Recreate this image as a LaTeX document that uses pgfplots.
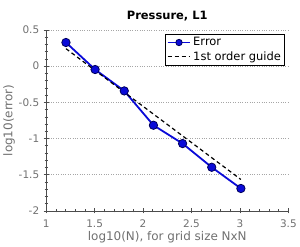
\documentclass[border={0pt 0pt 0pt 8bp}]{standalone}
\usepackage{fontspec}
\setmainfont{DejaVu Sans}
\usepackage{pgfplots}
\pgfplotsset{compat=1.18}
\definecolor{lblgray}{HTML}{707070}
\definecolor{errblue}{HTML}{0A0AD8}
\definecolor{markblue}{HTML}{00005A}
\pgfplotsset{
  markleg/.style={legend image code/.code={\draw[mark repeat=2,mark phase=2,##1, mark size=3.2pt]
    plot coordinates {(0cm,0cm) (0.4cm,0cm) (0.8cm,0cm)};}},
  lineleg/.style={legend image code/.code={\draw[##1] (0cm,0cm) -- (0.8cm,0cm);}},
}
\begin{document}
\begin{tikzpicture}
\begin{axis}[
  scale only axis,
  width=242bp, height=181bp,
  xmin=1, xmax=3.5, ymin=-2, ymax=0.5,
  axis lines*=left,
  axis line style={black!70, line width=0.6pt},
  xtick={1,1.5,...,3.5}, ytick={-2,-1.5,...,0.5},
  minor x tick num=4, minor y tick num=4,
  tick align=center,
  major tick length=5bp, minor tick length=3bp,
  tick style={black!70, line width=0.5pt},
  ymajorgrids,
  major grid style={dotted, black!35, line width=0.6pt},
  /pgf/number format/assume math mode=true,
  ticklabel style={font=\fontsize{10.5}{12}\selectfont, text=lblgray},
  x tick label style={yshift=-3bp},
  y tick label style={xshift=-1bp},
  title={\textbf{Pressure, L1}},
  title style={font=\fontsize{11.5}{13}\selectfont, yshift=-1bp},
  xlabel={log10(N), for grid size NxN},
  ylabel={log10(error)},
  label style={font=\fontsize{12}{14}\selectfont, text=lblgray},
  xlabel style={yshift=3bp},
  ylabel style={yshift=-3bp},
  legend style={at={(0.985,0.978)}, anchor=north east, draw=black, line width=0.6pt,
    font=\fontsize{11.5}{13}\selectfont, inner sep=1.5pt, row sep=0pt,
    cells={anchor=west}},
  legend cell align=left,
]
\addplot[errblue, line width=1.8pt, mark=*, mark size=4.2pt,
  mark options={fill=errblue, draw=markblue, line width=0.8pt}, markleg]
  coordinates {
  (1.204,0.325) (1.505,-0.048) (1.806,-0.343) (2.107,-0.817)
  (2.408,-1.070) (2.709,-1.397) (3.010,-1.690)
  };
\addlegendentry{Error}
\addplot[black, line width=1.2pt, dash pattern=on 4pt off 3pt, lineleg]
  coordinates {(1.204,0.240) (3.010,-1.566)};
\addlegendentry{1st order guide}
\end{axis}
\end{tikzpicture}
\end{document}
